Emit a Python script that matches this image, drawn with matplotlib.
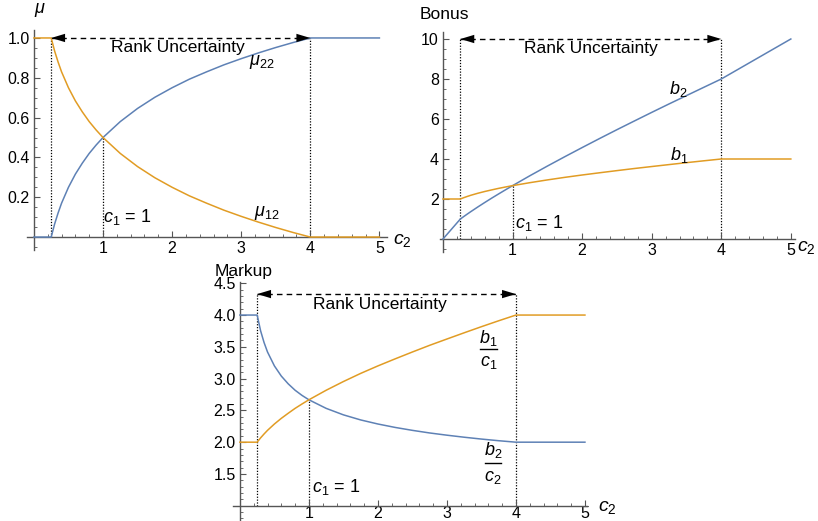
import matplotlib
matplotlib.use("Agg")
import matplotlib.pyplot as plt
from matplotlib.ticker import MultipleLocator, FixedLocator, FormatStrFormatter

plt.rcParams['font.family'] = ['Liberation Sans', 'DejaVu Sans']
plt.rcParams['mathtext.fontset'] = 'custom'
plt.rcParams['mathtext.rm'] = 'Liberation Sans'
plt.rcParams['mathtext.it'] = 'Liberation Sans:italic'
plt.rcParams['mathtext.bf'] = 'Liberation Sans:bold'

# ---- data ----
c2 = [0, 0.25, 0.3, 0.35, 0.4, 0.5, 0.6, 0.7, 0.8, 0.9, 1.0, 1.25, 1.5, 1.75,
      2.0, 2.25, 2.5, 2.75, 3.0, 3.25, 3.5, 3.75, 4.0, 5.0]
mu22 = [0, 0, 0.066, 0.121, 0.170, 0.250, 0.316, 0.371, 0.420, 0.462, 0.500, 0.580,
        0.646, 0.702, 0.750, 0.793, 0.830, 0.865, 0.896, 0.925, 0.952, 0.977, 1.0, 1.0]
mu12 = [1, 1, 0.934, 0.879, 0.830, 0.750, 0.684, 0.629, 0.580, 0.538, 0.500, 0.420,
        0.354, 0.298, 0.250, 0.207, 0.170, 0.135, 0.104, 0.075, 0.048, 0.023, 0.0, 0.0]
b1 = [2, 2, 2.068, 2.129, 2.186, 2.286, 2.375, 2.455, 2.532, 2.601, 2.667, 2.817,
      2.954, 3.082, 3.200, 3.311, 3.419, 3.524, 3.623, 3.721, 3.817, 3.910, 4.0, 4.0]
b2 = [0, 1.0, 1.126, 1.249, 1.368, 1.600, 1.824, 2.043, 2.254, 2.462, 2.667, 3.165,
      3.645, 4.113, 4.571, 5.022, 5.465, 5.899, 6.330, 6.754, 7.170, 7.586, 8.0, 10.0]
markup1 = [2, 2, 2.068, 2.129, 2.186, 2.286, 2.375, 2.455, 2.532, 2.601, 2.667, 2.817,
           2.954, 3.082, 3.200, 3.311, 3.419, 3.524, 3.623, 3.721, 3.817, 3.910, 4.0, 4.0]
markup2 = [4, 4, 3.752, 3.568, 3.419, 3.200, 3.040, 2.918, 2.817, 2.736, 2.667, 2.532,
           2.430, 2.350, 2.286, 2.232, 2.186, 2.145, 2.110, 2.078, 2.049, 2.023, 2.0, 2.0]

c_low, c_high, c1 = 0.25, 4.0, 1.0
cross_mu, cross_b, cross_m = 0.5, 2.667, 2.667

BLUE = '#5E81B5'
ORANGE = '#E19C24'
AXC = '#555555'
W, H = 818, 521
FS = 11

fig = plt.figure(figsize=(W / 100, H / 100), dpi=100)


def make_ax(px_left, px_right, px_top, px_bottom, xlim, ylim, yorigin, xpad=3):
    ax = fig.add_axes([px_left / W, 1 - px_bottom / H,
                       (px_right - px_left) / W, (px_bottom - px_top) / H])
    ax.set_xlim(*xlim)
    ax.set_ylim(*ylim)
    ax.patch.set_alpha(0)
    for s in ('top', 'right'):
        ax.spines[s].set_visible(False)
    ax.spines['left'].set_position(('data', 0))
    ax.spines['bottom'].set_position(('data', yorigin))
    for s in ('left', 'bottom'):
        ax.spines[s].set_color(AXC)
        ax.spines[s].set_linewidth(1.0)
    ax.tick_params(which='major', direction='in', length=4, width=0.8, color=AXC,
                   labelsize=FS + 0.5, pad=3)
    ax.tick_params(axis='x', which='major', pad=xpad)
    ax.tick_params(which='minor', direction='in', length=2, width=0.6, color=AXC)
    ax.xaxis.set_major_locator(FixedLocator([1, 2, 3, 4, 5]))
    ax.xaxis.set_minor_locator(MultipleLocator(0.2))
    return ax


def rank_arrow(ax, y, ytext, xtext):
    ax.plot([c_low, c_high], [y, y], color='black', lw=1, linestyle=(0, (4, 3)))
    for xa, xb in ((c_low, c_high), (c_high, c_low)):
        ax.annotate('', xy=(xa, y), xytext=(xb, y),
                    arrowprops=dict(arrowstyle='-|>,head_length=1.0,head_width=0.3',
                                    lw=0, color='black', shrinkA=0, shrinkB=0))
    ax.text(xtext, ytext, 'Rank Uncertainty', ha='center', va='center', fontsize=FS + 1.5)


def vdot(ax, x, y0, y1):
    ax.plot([x, x], [y0, y1], color='black', lw=0.9, linestyle=(0, (1, 1.3)), zorder=1)


def fraction(ax, x, ytop, yline, ybot, num, den, half):
    ax.text(x, ytop, num, ha='center', va='center', fontsize=FS + 2)
    ax.plot([x - half, x + half], [yline, yline], color='black', lw=1)
    ax.text(x, ybot, den, ha='center', va='center', fontsize=FS + 2)


# ---------------- Panel 1 ----------------
ax1 = make_ax(27, 387, 30, 250, (-0.1, 5.11), (-0.065, 1.04), 0)
ax1.yaxis.set_major_locator(FixedLocator([0.2, 0.4, 0.6, 0.8, 1.0]))
ax1.yaxis.set_major_formatter(FormatStrFormatter('%.1f'))
ax1.yaxis.set_minor_locator(MultipleLocator(0.05))
vdot(ax1, c_low, 0, 1.0)
vdot(ax1, c1, 0, cross_mu)
vdot(ax1, c_high, 0, 1.0)
ax1.plot(c2, mu22, color=BLUE, lw=1.1, zorder=3, clip_on=False)
ax1.plot(c2, mu12, color=ORANGE, lw=1.1, zorder=3, clip_on=False)
rank_arrow(ax1, 1.0, 0.95, 2.08)
ax1.text(3.3, 0.88, r'$\mu_{\mathrm{22}}$', ha='center', va='center', fontsize=FS + 2)
ax1.text(3.37, 0.12, r'$\mu_{\mathrm{12}}$', ha='center', va='center', fontsize=FS + 2)
ax1.text(1.0, 0.10, r'$c_{\mathrm{1}}$ = 1', ha='left', va='center', fontsize=FS + 2)
ax1.text(0.09, 1.14, r'$\mu$', ha='center', va='center', fontsize=FS + 2, clip_on=False)
ax1.text(5.19, -0.015, r'$c_{\mathrm{2}}$', ha='left', va='center', fontsize=FS + 3, clip_on=False)

# ---------------- Panel 2 ----------------
ax2 = make_ax(439.5, 795, 32, 252, (-0.05, 5.06), (-0.65, 10.35), 0)
ax2.yaxis.set_major_locator(FixedLocator([2, 4, 6, 8, 10]))
ax2.yaxis.set_minor_locator(MultipleLocator(0.5))
vdot(ax2, c_low, 0, 10)
vdot(ax2, c1, 0, cross_b)
vdot(ax2, c_high, 0, 10)
ax2.plot(c2, b2, color=BLUE, lw=1.1, zorder=3)
ax2.plot(c2, b1, color=ORANGE, lw=1.1, zorder=3)
rank_arrow(ax2, 10, 9.5, 2.13)
ax2.text(3.38, 7.5, r'$b_{\mathrm{2}}$', ha='center', va='center', fontsize=FS + 2)
ax2.text(3.4, 4.2, r'$b_{\mathrm{1}}$', ha='center', va='center', fontsize=FS + 2)
ax2.text(1.03, 0.8, r'$c_{\mathrm{1}}$ = 1', ha='left', va='center', fontsize=FS + 2)
ax2.text(-0.33, 11.2, 'Bonus', ha='left', va='center', fontsize=FS + 1.5, clip_on=False)
ax2.text(5.09, -0.4, r'$c_{\mathrm{2}}$', ha='left', va='center', fontsize=FS + 3, clip_on=False)

# ---------------- Panel 3 ----------------
ax3 = make_ax(233, 587, 282, 521, (-0.1, 5.03), (0.76, 4.52), 1.0, xpad=0.5)
ax3.yaxis.set_major_locator(FixedLocator([1.5, 2.0, 2.5, 3.0, 3.5, 4.0, 4.5]))
ax3.yaxis.set_major_formatter(FormatStrFormatter('%.1f'))
ax3.yaxis.set_minor_locator(MultipleLocator(0.1))
vdot(ax3, c_low, 1.0, 4.33)
vdot(ax3, c1, 1.0, cross_m)
vdot(ax3, c_high, 1.0, 4.33)
ax3.plot(c2, markup2, color=BLUE, lw=1.1, zorder=3)
ax3.plot(c2, markup1, color=ORANGE, lw=1.1, zorder=3)
rank_arrow(ax3, 4.33, 4.16, 2.03)
fraction(ax3, 3.6, 3.64, 3.47, 3.25, r'$b_{\mathrm{1}}$', r'$c_{\mathrm{1}}$', 0.12)
fraction(ax3, 3.67, 1.88, 1.68, 1.44, r'$b_{\mathrm{2}}$', r'$c_{\mathrm{2}}$', 0.12)
ax3.text(1.04, 1.3, r'$c_{\mathrm{1}}$ = 1', ha='left', va='center', fontsize=FS + 2)
ax3.text(-0.36, 4.69, 'Markup', ha='left', va='center', fontsize=FS + 1.5, clip_on=False)
ax3.text(5.19, 0.98, r'$c_{\mathrm{2}}$', ha='left', va='center', fontsize=FS + 3, clip_on=False)

fig.savefig('out.png', dpi=100)
